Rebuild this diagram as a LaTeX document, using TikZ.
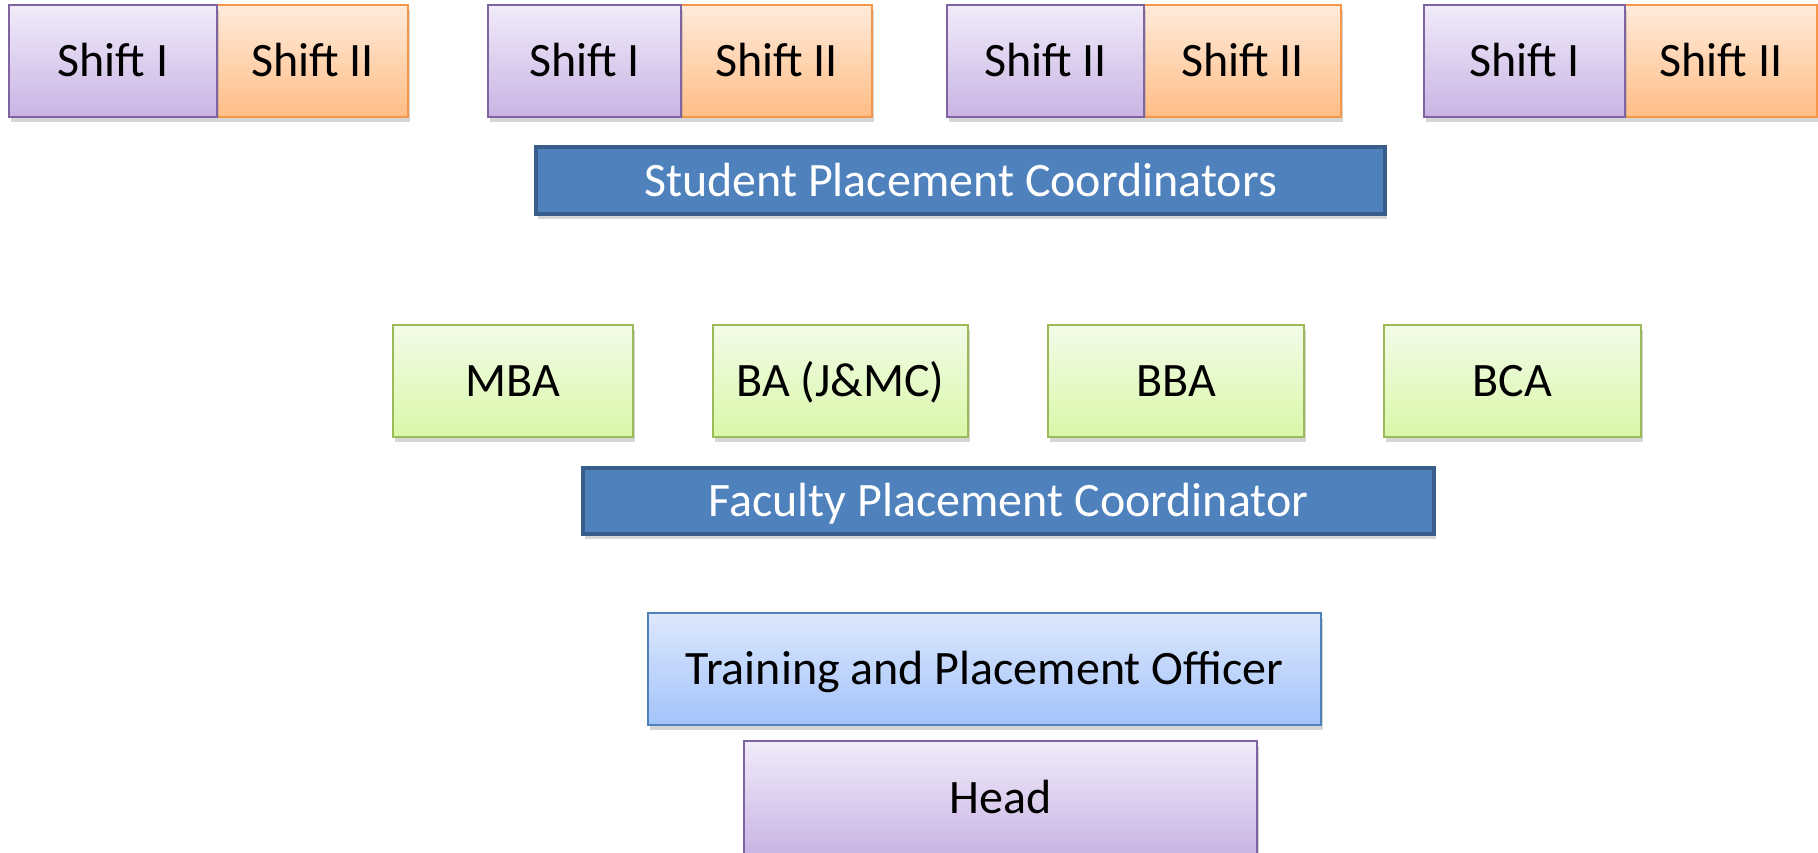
\documentclass[tikz,border=0pt]{standalone}
\usepackage{fontspec}
\setmainfont{Carlito}
\usetikzlibrary{shadows}
\definecolor{purpT}{HTML}{F1EBF9}
\definecolor{purpB}{HTML}{C9B4E4}
\definecolor{purpL}{HTML}{8064A2}
\definecolor{oranT}{HTML}{FFEBDB}
\definecolor{oranB}{HTML}{FFBD85}
\definecolor{oranL}{HTML}{F79646}
\definecolor{grnT}{HTML}{F3FBE8}
\definecolor{grnB}{HTML}{D8F8A8}
\definecolor{grnL}{HTML}{9BBB59}
\definecolor{bluF}{HTML}{4F81BD}
\definecolor{bluL}{HTML}{385D8A}
\definecolor{ltbT}{HTML}{DDE8FD}
\definecolor{ltbB}{HTML}{A3C3FA}
\begin{document}
\begin{tikzpicture}[x=1pt,y=-1pt,
  base/.style={rectangle, inner sep=0pt, outer sep=0pt, font=\fontsize{48}{56}\selectfont,
    text height=31pt, text depth=0pt,
    drop shadow={shadow xshift=2pt, shadow yshift=-5pt, fill=black!45, opacity=0.35}},
  purpbox/.style={base, draw=purpL, line width=2pt, top color=purpT, bottom color=purpB},
  oranbox/.style={base, draw=oranL, line width=2pt, top color=oranT, bottom color=oranB},
  grnbox/.style={base, draw=grnL, line width=2pt, top color=grnT, bottom color=grnB},
  ltbbox/.style={base, draw=bluF, line width=2pt, top color=ltbT, bottom color=ltbB},
  bluebox/.style={base, draw=bluL, line width=4pt, fill=bluF, text=white}
]
\useasboundingbox (0,0) rectangle (1818,852);
\fill[white] (0,0) rectangle (1818,852);
% top row
\node[oranbox, minimum width=191pt, minimum height=112pt] (s1b) at (312.5,61) {Shift II};
\node[purpbox, minimum width=208pt, minimum height=112pt] (s1a) at (113,61) {Shift I};
\node[oranbox, minimum width=191pt, minimum height=112pt] (s2b) at (776.5,61) {Shift II};
\node[purpbox, minimum width=193pt, minimum height=112pt] (s2a) at (584.5,61) {Shift I};
\node[oranbox, minimum width=197pt, minimum height=112pt] (s3b) at (1242.5,61) {Shift II};
\node[purpbox, minimum width=197pt, minimum height=112pt] (s3a) at (1045.5,61) {Shift II};
\node[oranbox, minimum width=192pt, minimum height=112pt] (s4b) at (1721,61) {Shift II};
\node[purpbox, minimum width=201pt, minimum height=112pt] (s4a) at (1524.5,61) {Shift I};
% student coordinators
\node[bluebox, minimum width=849pt, minimum height=67pt] (spc) at (960.5,180.5) {Student Placement Coordinators};
% programmes
\node[grnbox, minimum width=240pt, minimum height=112pt] (mba) at (513,381) {MBA};
\node[grnbox, minimum width=255pt, minimum height=112pt] (ba) at (840.5,381) {BA (J\&MC)};
\node[grnbox, minimum width=256pt, minimum height=112pt] (bba) at (1176,381) {BBA};
\node[grnbox, minimum width=257pt, minimum height=112pt] (bca) at (1512.5,381) {BCA};
% faculty
\node[bluebox, minimum width=851pt, minimum height=66pt] (fpc) at (1008.5,501) {Faculty Placement Coordinator};
% officer and head
\node[ltbbox, minimum width=673pt, minimum height=112pt] (tpo) at (984.5,669) {Training and Placement Officer};
\node[purpbox, minimum width=513pt, minimum height=114pt] (head) at (1000.5,798) {Head};
\end{tikzpicture}
\end{document}
